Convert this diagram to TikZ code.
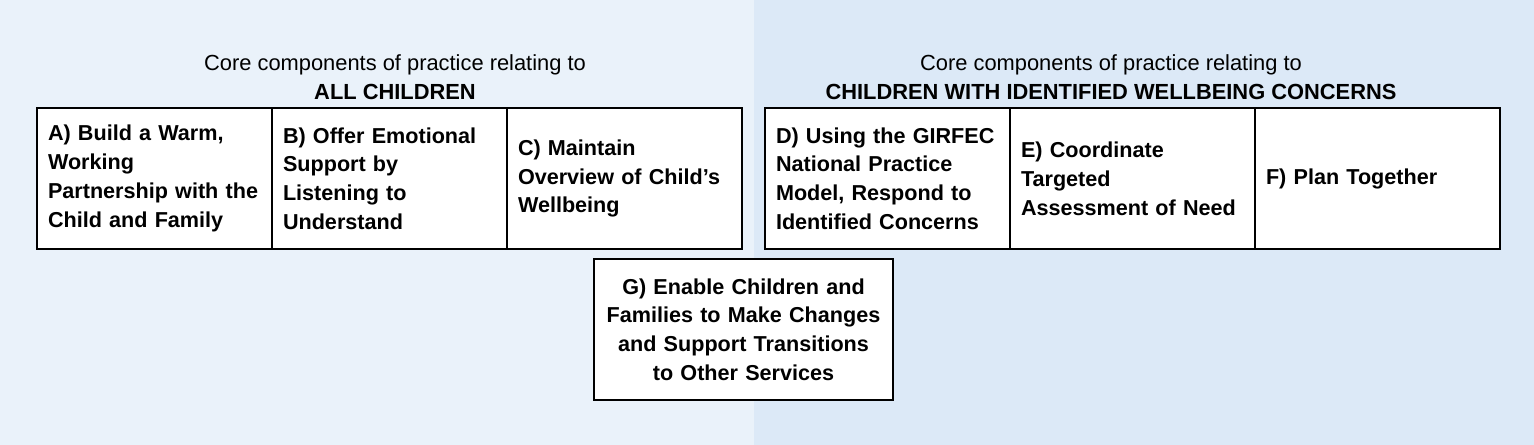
\documentclass[tikz,border=0pt]{standalone}
\usepackage{fontspec}
\setmainfont{Liberation Sans}
\usetikzlibrary{positioning}
\definecolor{leftbg}{RGB}{234,242,250}
\definecolor{rightbg}{RGB}{220,233,247}
\tikzset{
  cell/.style={draw=black, line width=1.5pt, fill=white, rectangle, outer sep=0pt,
    inner xsep=8.25pt, inner ysep=0pt, minimum height=105.75pt,
    align=left, font=\bfseries\fontsize{16.2}{21.6}\selectfont},
  leftcell/.style={cell, text width=159.75pt},
  rightcell/.style={cell, text width=167.25pt},
  header/.style={align=center, font=\fontsize{16.4}{21.4}\selectfont}
}
\begin{document}
\begin{tikzpicture}[x=0.75pt,y=-0.75pt]
    % Background halves
    \fill[leftbg] (0,0) rectangle (754,445);
    \fill[rightbg] (754,0) rectangle (1534,445);
    \useasboundingbox (0,0) rectangle (1534,445);

    % Anchor points of the two groups
    \coordinate (allkids) at (37,108);
    \coordinate (concerns) at (765,108);

    % Headers
    \node[header] (hleft) at (395,77) {Core components of practice relating to\\\textbf{ALL CHILDREN}};
    \node[header] (hright) at (1111,77) {Core components of practice relating to\\\textbf{CHILDREN WITH IDENTIFIED WELLBEING CONCERNS}};

    % Components for all children
    \node[leftcell, anchor=north west] (A) at (allkids) {A) Build a Warm,\\Working\\Partnership with the\\Child and Family};
    \node[leftcell, right=0pt of A] (B) {B) Offer Emotional\\Support by\\Listening to\\Understand};
    \node[leftcell, right=0pt of B] (C) {C) Maintain\\Overview of Child’s\\Wellbeing};

    % Components for children with concerns
    \node[rightcell, anchor=north west] (D) at (concerns) {D) Using the GIRFEC\\National Practice\\Model, Respond to\\Identified Concerns};
    \node[rightcell, right=0pt of D] (E) {E) Coordinate\\Targeted\\Assessment of Need};
    \node[rightcell, right=0pt of E] (F) {F) Plan Together};

    % Shared component
    \node[cell, align=center, text width=207.75pt, anchor=north] (G) at (743.5,259) {G) Enable Children and\\Families to Make Changes\\and Support Transitions\\to Other Services};
\end{tikzpicture}
\end{document}
